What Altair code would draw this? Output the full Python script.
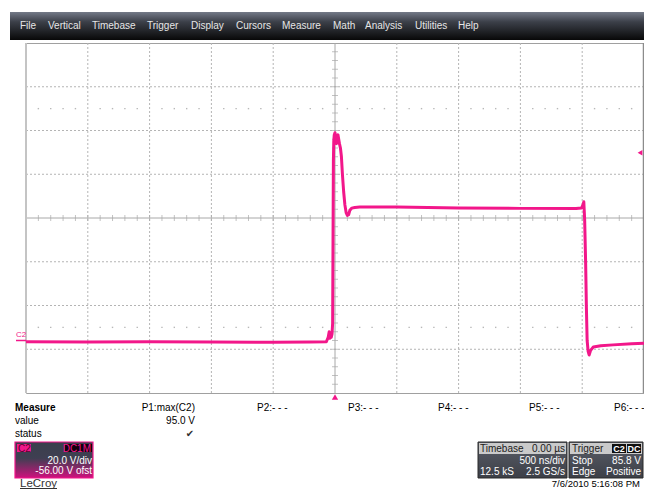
import altair as alt
import pandas as pd

# ---------------- data ----------------
# C2 waveform, time in ns (500 ns/div, trigger at 0), voltage in V
t_ns = [-2500, -2000, -1500, -1000, -500, -200, -70, -55, -47, -42, -36, -30, -24, -19,
        -16, -13, -10, -6, 0, 6, 12, 18, 24, 30, 36, 44, 52, 60, 70, 80, 90, 100,
        110, 120, 135, 160, 200, 500, 1000, 1500, 1950, 1995, 2006, 2013, 2020,
        2028, 2034, 2040, 2048, 2056, 2068, 2090, 2150, 2250, 2400, 2500]
volts = [-0.6, -0.7, -0.6, -0.7, -0.8, -0.7, -0.6, 1.5, 4.0, 1.0, 2.5, 1.5, 3.0, 8.0,
         45.0, 82.0, 91.0, 94.0, 95.0, 93.0, 90.0, 93.0, 94.0, 92.0, 90.0, 88.0, 84.0,
         76.0, 68.0, 62.0, 58.5, 57.2, 57.5, 59.5, 60.5, 60.8, 61.0, 61.0, 60.6, 60.4,
         60.3, 60.6, 62.0, 63.4, 55.0, 35.0, 15.0, 0.0, -5.0, -6.6, -4.5, -3.0, -2.4,
         -2.0, -1.5, -1.2]

grid_t = [-2000, -1500, -1000, -500, 500, 1000, 1500, 2000]
grid_v = [-4, 16, 36, 76, 96, 116]
minor_t = [t for t in range(-2400, 2500, 100) if t != 0]
minor_v = [v for v in range(-20, 136, 4) if v != 56]
dot_rows_v = [106, 6]
dot_t = [t for t in range(-2400, 2500, 100) if t % 500 != 0]

menu_items = ["File", "Vertical", "Timebase", "Trigger", "Display", "Cursors",
              "Measure", "Math", "Analysis", "Utilities", "Help"]
menu_x = [20, 48, 92, 147, 191, 236, 282, 333, 365, 415, 458]
param_labels = ["P2:- - -", "P3:- - -", "P4:- - -", "P5:- - -", "P6:- - -"]
param_x = [257, 348, 438, 529, 614]

TRACE = "#f2178a"
FONT = "Liberation Sans"
OX, OY = 26, 43      # page position of the plot area
W, H = 618, 350
SVG_W = 652 - 16
SVG_H = 497 - 16

xs = alt.Scale(domain=[-2500, 2500], nice=False, zero=False)
ys = alt.Scale(domain=[-24, 136], nice=False, zero=False)
X = lambda f="t": alt.X(f"{f}:Q", scale=xs, axis=None)
Y = lambda f="v": alt.Y(f"{f}:Q", scale=ys, axis=None)


def px(x):
    return x - OX


def py(y):
    return y - OY


def one():
    return alt.Data(values=[{"k": 0}])


def label(txt, x, y, align="left", size=10, color="#000000", weight="normal",
          font=FONT, baseline="middle"):
    return alt.Chart(alt.Data(values=[{"t": txt}])).mark_text(
        align=align, baseline=baseline, fontSize=size, color=color,
        fontWeight=weight, font=font
    ).encode(x=alt.value(px(x)), y=alt.value(py(y)), text="t:N")


def box(x1, y1, x2, y2, fill, stroke=None, sw=1):
    kw = dict(fill=fill)
    if stroke:
        kw.update(stroke=stroke, strokeWidth=sw)
    return alt.Chart(one()).mark_rect(**kw).encode(
        x=alt.value(px(x1)), x2=alt.value(px(x2)),
        y=alt.value(py(y1)), y2=alt.value(py(y2)))


def grad(stops):
    return alt.LinearGradient(
        gradient="linear", x1=0, x2=0, y1=0, y2=1,
        stops=[alt.GradientStop(color=c, offset=o) for o, c in stops])


layers = []

# menu bar
layers.append(box(10, 12, 660, 40, grad([(0, "#747a88"), (0.35, "#3c4049"), (1, "#080808")])))
for name, mx in zip(menu_items, menu_x):
    layers.append(label(name, mx, 26, size=10, color="#e6e6e6"))

# grid
layers.append(alt.Chart(pd.DataFrame({"t": grid_t}))
              .mark_rule(color="#b4b4b4", strokeDash=[2, 2], strokeWidth=1)
              .encode(x=X()))
layers.append(alt.Chart(pd.DataFrame({"v": grid_v}))
              .mark_rule(color="#b4b4b4", strokeDash=[2, 2], strokeWidth=1)
              .encode(y=Y()))
dots = pd.DataFrame([{"t": t, "v": v} for v in dot_rows_v for t in dot_t])
layers.append(alt.Chart(dots).mark_square(size=2, color="#b8b8b8", opacity=1)
              .encode(x=X(), y=Y()))
# centre cross
layers.append(alt.Chart(pd.DataFrame({"t": [0]})).mark_rule(color="#a8a8a8", strokeWidth=1)
              .encode(x=X()))
layers.append(alt.Chart(pd.DataFrame({"v": [56]})).mark_rule(color="#a8a8a8", strokeWidth=1)
              .encode(y=Y()))
layers.append(alt.Chart(pd.DataFrame({"t": minor_t, "v": [56] * len(minor_t)}))
              .mark_tick(orient="vertical", size=6, thickness=1, color="#a8a8a8")
              .encode(x=X(), y=Y()))
layers.append(alt.Chart(pd.DataFrame({"v": minor_v, "t": [0] * len(minor_v)}))
              .mark_tick(orient="horizontal", size=6, thickness=1, color="#a8a8a8")
              .encode(x=X(), y=Y()))
# frame
layers.append(alt.Chart(one()).mark_rule(color="#c4c4c4", strokeWidth=2)
              .encode(x=alt.value(0), y=alt.value(0), y2=alt.value(H)))
layers.append(alt.Chart(one()).mark_rule(color="#8c8c8c", strokeWidth=1.5)
              .encode(x=alt.value(W - 0.5), y=alt.value(0), y2=alt.value(H)))

# trace
wave = pd.DataFrame({"t": t_ns, "v": volts})
layers.append(alt.Chart(wave).mark_line(color=TRACE, strokeWidth=3, clip=True,
                                        strokeJoin="round")
              .encode(x=X(), y=Y()))

# ground marker C2
layers.append(alt.Chart(pd.DataFrame({"v": [0]})).mark_rule(color=TRACE, strokeWidth=1.5)
              .encode(x=alt.value(px(16)), x2=alt.value(0), y=Y()))
layers.append(label("C2", 16, 335, size=8, color=TRACE))
# trigger level and trigger position markers
layers.append(alt.Chart(pd.DataFrame({"v": [85.8]}))
              .mark_point(shape="triangle-left", filled=True, size=30, color=TRACE, opacity=1)
              .encode(x=alt.value(px(640)), y=Y()))
layers.append(alt.Chart(pd.DataFrame({"t": [0]}))
              .mark_point(shape="triangle-up", filled=True, size=40, color=TRACE, opacity=1)
              .encode(x=X(), y=alt.value(py(397))))

# measure table
layers.append(label("Measure", 15, 408, weight="bold"))
layers.append(label("P1:max(C2)", 195, 408, align="right"))
for lab, lx in zip(param_labels, param_x):
    layers.append(label(lab, lx, 408))
layers.append(label("value", 15, 421))
layers.append(label("95.0 V", 195, 421, align="right"))
layers.append(label("status", 15, 434))
layers.append(label("\u2714", 190, 434, align="center", font="DejaVu Sans", size=10,
                    color="#303030"))

# C2 channel box
layers.append(box(15, 442, 93, 478, grad([(0, "#3a3f4c"), (0.45, "#3f3f52"), (1, "#d0107e")]),
                  stroke=TRACE, sw=1.2))
layers.append(box(17, 444, 31, 452, TRACE))
layers.append(label("C2", 18, 448.5, size=10, color="#5a0030"))
layers.append(box(65, 444, 92, 452, "#140010"))
layers.append(label("DC1M", 91, 448.5, align="right", size=10, color=TRACE))
layers.append(label("20.0 V/div", 92, 460.5, align="right", color="#ffffff"))
layers.append(label("-56.00 V ofst", 92, 471, align="right", color="#ffffff"))
layers.append(label("LeCroy", 20, 487, size=11.5, color="#333333", baseline="alphabetic"))
layers.append(alt.Chart(one()).mark_rule(color="#333333", strokeWidth=1)
              .encode(x=alt.value(px(20)), x2=alt.value(px(57)), y=alt.value(py(488.5))))

# timebase box
layers.append(box(478, 442, 567, 478, grad([(0, "#5a5e68"), (1, "#3c3f47")]),
                  stroke="#2a2a2a", sw=1))
layers.append(box(479, 443, 566, 454, "#cacaca"))
layers.append(label("Timebase", 480, 448.5, color="#202020"))
layers.append(label("0.00 \u00b5s", 565, 448.5, align="right", color="#202020"))
layers.append(label("500 ns/div", 565, 461, align="right", color="#ffffff"))
layers.append(label("12.5 kS", 480, 472, color="#ffffff"))
layers.append(label("2.5 GS/s", 565, 472, align="right", color="#ffffff"))

# trigger box
layers.append(box(569, 442, 643, 478, grad([(0, "#5a5e68"), (1, "#3c3f47")]),
                  stroke="#2a2a2a", sw=1))
layers.append(box(570, 443, 642, 454, "#cacaca"))
layers.append(label("Trigger", 572, 448.5, color="#202020"))
layers.append(box(612, 444, 626, 453, "#101010"))
layers.append(label("C2", 619, 448.5, align="center", color="#ffffff", weight="bold", size=9))
layers.append(box(627, 444, 641, 453, "#101010"))
layers.append(label("DC", 634, 448.5, align="center", color="#ffffff", weight="bold", size=9))
layers.append(label("Stop", 572, 461, color="#ffffff"))
layers.append(label("85.8 V", 641, 461, align="right", color="#ffffff"))
layers.append(label("Edge", 572, 472, color="#ffffff"))
layers.append(label("Positive", 641, 472, align="right", color="#ffffff"))

layers.append(label("7/6/2010 5:16:08 PM", 640, 487, align="right", size=9.5,
                    baseline="alphabetic"))

chart = alt.layer(*layers).properties(
    width=W, height=H,
    autosize=alt.AutoSizeParams(type="none"),
    padding={"left": OX - 8, "top": OY - 8, "right": SVG_W - (OX - 8) - W,
             "bottom": SVG_H - (OY - 8) - H},
    background="#ffffff",
).configure_view(stroke="#a0a0a0", strokeWidth=1)

chart.save("out.html", embed_options={"renderer": "svg", "actions": False})
